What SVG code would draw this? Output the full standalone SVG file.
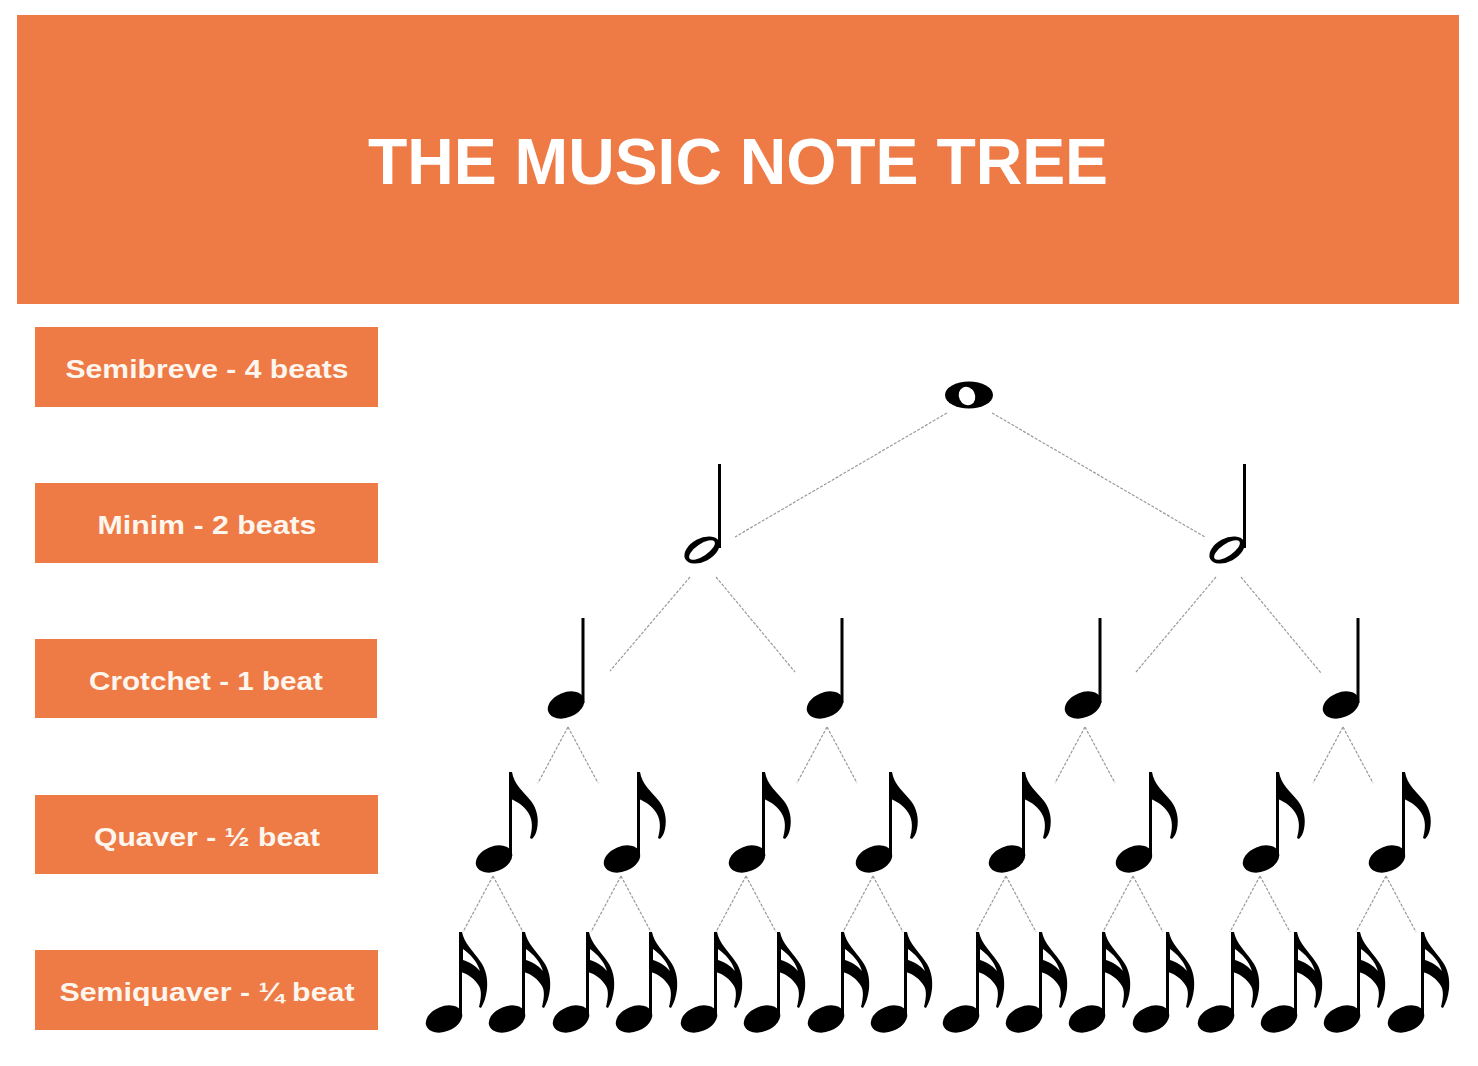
<svg xmlns="http://www.w3.org/2000/svg" width="1478" height="1066" viewBox="0 0 1478 1066">
<style>
.box{fill:#EE7B46}
.lbl{font-family:"Liberation Sans",Arial,sans-serif;font-weight:bold;font-size:26px;fill:#FDF6EE;text-anchor:middle}
.title{font-family:"Liberation Sans",Arial,sans-serif;font-weight:bold;font-size:64px;fill:#FFFFFF;text-anchor:middle}
.con line{stroke:#9a9a9a;stroke-width:1.2;stroke-dasharray:3 1.5;fill:none}
</style>
<defs>
<g id="semibreve">
<ellipse cx="0" cy="0" rx="24" ry="13.5" fill="#000"/>
<ellipse cx="-2" cy="1" rx="8" ry="9.5" transform="rotate(-25 -2 1)" fill="#fff"/>
</g>
<g id="minim">
<ellipse cx="0" cy="0" rx="19" ry="11.5" transform="rotate(-28)" fill="#000"/>
<ellipse cx="0" cy="0" rx="15" ry="6" transform="rotate(-34)" fill="#fff"/>
<rect x="16" y="-86" width="3" height="84" fill="#000"/>
</g>
<g id="crotchet">
<ellipse cx="0" cy="0" rx="19" ry="12.5" transform="rotate(-22)" fill="#000"/>
<rect x="15.5" y="-87" width="3" height="85" fill="#000"/>
</g>
<g id="quaver">
<ellipse cx="0" cy="0" rx="19" ry="12.5" transform="rotate(-22)" fill="#000"/>
<rect x="15" y="-87" width="3" height="85" fill="#000"/>
<path fill="#000" d="M15,-87 L18,-87 C20,-74 30,-67 37,-58 C43,-50 45,-40 43,-30 C42,-25 40,-22 38,-20 L36,-21 C38,-28 39,-36 36,-43 C32,-52 24,-57 17,-60 Z"/>
</g>
<g id="semiquaver">
<ellipse cx="0" cy="0" rx="19" ry="12.5" transform="rotate(-22)" fill="#000"/>
<rect x="15" y="-87" width="3" height="85" fill="#000"/>
<path fill="#000" d="M15,-87 L18,-87 C20,-76 30,-67 36,-58 C42,-50 44,-40 43,-30 C42,-22 40,-16 37,-11 L35,-12 C37,-20 38,-28 35,-33 C31,-40 24,-45 17,-47 Z"/>
<path fill="#fff" d="M19,-70 C26,-65 33,-58 36,-48 C31,-54 25,-57 19,-59 Z"/>
</g>
</defs>
<rect width="1478" height="1066" fill="#FFFFFF"/>
<g id="header">
<rect class="box" x="17" y="15" width="1442" height="289"/>
<text class="title" x="738" y="184" textLength="740" lengthAdjust="spacingAndGlyphs">THE MUSIC NOTE TREE</text>
</g>
<g id="label-semibreve">
<rect class="box" x="35" y="327" width="343" height="80"/>
<text class="lbl" x="207" y="378" textLength="283" lengthAdjust="spacingAndGlyphs">Semibreve - 4 beats</text>
</g>
<g id="label-minim">
<rect class="box" x="35" y="483" width="343" height="80"/>
<text class="lbl" x="207" y="534" textLength="219" lengthAdjust="spacingAndGlyphs">Minim - 2 beats</text>
</g>
<g id="label-crotchet">
<rect class="box" x="35" y="639" width="342" height="79"/>
<text class="lbl" x="206" y="690" textLength="234" lengthAdjust="spacingAndGlyphs">Crotchet - 1 beat</text>
</g>
<g id="label-quaver">
<rect class="box" x="35" y="795" width="343" height="79"/>
<text class="lbl" x="207" y="846" textLength="226" lengthAdjust="spacingAndGlyphs">Quaver - ½ beat</text>
</g>
<g id="label-semiquaver">
<rect class="box" x="35" y="950" width="343" height="80"/>
<text class="lbl" x="207" y="1001" textLength="295" lengthAdjust="spacingAndGlyphs">Semiquaver - ¼ beat</text>
</g>
<g id="connectors" class="con">
<line x1="947" y1="413" x2="735" y2="537"/>
<line x1="992" y1="413" x2="1205" y2="537"/>
<line x1="690" y1="577" x2="610" y2="671"/>
<line x1="716" y1="577" x2="795" y2="672"/>
<line x1="1216" y1="577" x2="1136" y2="672"/>
<line x1="1241" y1="577" x2="1321" y2="673"/>
<line x1="568" y1="727" x2="538" y2="783"/>
<line x1="568" y1="727" x2="598" y2="783"/>
<line x1="827" y1="727" x2="797" y2="783"/>
<line x1="827" y1="727" x2="857" y2="783"/>
<line x1="1085" y1="727" x2="1055" y2="783"/>
<line x1="1085" y1="727" x2="1115" y2="783"/>
<line x1="1343" y1="727" x2="1313" y2="783"/>
<line x1="1343" y1="727" x2="1373" y2="783"/>
<line x1="493" y1="876" x2="463" y2="932"/>
<line x1="493" y1="876" x2="523" y2="932"/>
<line x1="621" y1="876" x2="591" y2="932"/>
<line x1="621" y1="876" x2="651" y2="932"/>
<line x1="746" y1="876" x2="716" y2="932"/>
<line x1="746" y1="876" x2="776" y2="932"/>
<line x1="873" y1="876" x2="843" y2="932"/>
<line x1="873" y1="876" x2="903" y2="932"/>
<line x1="1006" y1="876" x2="976" y2="932"/>
<line x1="1006" y1="876" x2="1036" y2="932"/>
<line x1="1133" y1="876" x2="1103" y2="932"/>
<line x1="1133" y1="876" x2="1163" y2="932"/>
<line x1="1260" y1="876" x2="1230" y2="932"/>
<line x1="1260" y1="876" x2="1290" y2="932"/>
<line x1="1386" y1="876" x2="1356" y2="932"/>
<line x1="1386" y1="876" x2="1416" y2="932"/>
</g>
<g id="note-semibreve"><use href="#semibreve" x="969" y="395"/></g>
<g id="note-minim-1"><use href="#minim" x="702" y="550"/></g>
<g id="note-minim-2"><use href="#minim" x="1227" y="550"/></g>
<g id="note-crotchet-1"><use href="#crotchet" x="566" y="705"/></g>
<g id="note-crotchet-2"><use href="#crotchet" x="825" y="705"/></g>
<g id="note-crotchet-3"><use href="#crotchet" x="1083" y="705"/></g>
<g id="note-crotchet-4"><use href="#crotchet" x="1341" y="705"/></g>
<g id="note-quaver-1"><use href="#quaver" x="494" y="859"/></g>
<g id="note-quaver-2"><use href="#quaver" x="622" y="859"/></g>
<g id="note-quaver-3"><use href="#quaver" x="747" y="859"/></g>
<g id="note-quaver-4"><use href="#quaver" x="874" y="859"/></g>
<g id="note-quaver-5"><use href="#quaver" x="1007" y="859"/></g>
<g id="note-quaver-6"><use href="#quaver" x="1134" y="859"/></g>
<g id="note-quaver-7"><use href="#quaver" x="1261" y="859"/></g>
<g id="note-quaver-8"><use href="#quaver" x="1387" y="859"/></g>
<g id="note-semiquaver-1"><use href="#semiquaver" x="444" y="1019"/></g>
<g id="note-semiquaver-2"><use href="#semiquaver" x="507" y="1019"/></g>
<g id="note-semiquaver-3"><use href="#semiquaver" x="571" y="1019"/></g>
<g id="note-semiquaver-4"><use href="#semiquaver" x="634" y="1019"/></g>
<g id="note-semiquaver-5"><use href="#semiquaver" x="699" y="1019"/></g>
<g id="note-semiquaver-6"><use href="#semiquaver" x="762" y="1019"/></g>
<g id="note-semiquaver-7"><use href="#semiquaver" x="826" y="1019"/></g>
<g id="note-semiquaver-8"><use href="#semiquaver" x="889" y="1019"/></g>
<g id="note-semiquaver-9"><use href="#semiquaver" x="961" y="1019"/></g>
<g id="note-semiquaver-10"><use href="#semiquaver" x="1024" y="1019"/></g>
<g id="note-semiquaver-11"><use href="#semiquaver" x="1087" y="1019"/></g>
<g id="note-semiquaver-12"><use href="#semiquaver" x="1151" y="1019"/></g>
<g id="note-semiquaver-13"><use href="#semiquaver" x="1216" y="1019"/></g>
<g id="note-semiquaver-14"><use href="#semiquaver" x="1279" y="1019"/></g>
<g id="note-semiquaver-15"><use href="#semiquaver" x="1342" y="1019"/></g>
<g id="note-semiquaver-16"><use href="#semiquaver" x="1406" y="1019"/></g>
</svg>
